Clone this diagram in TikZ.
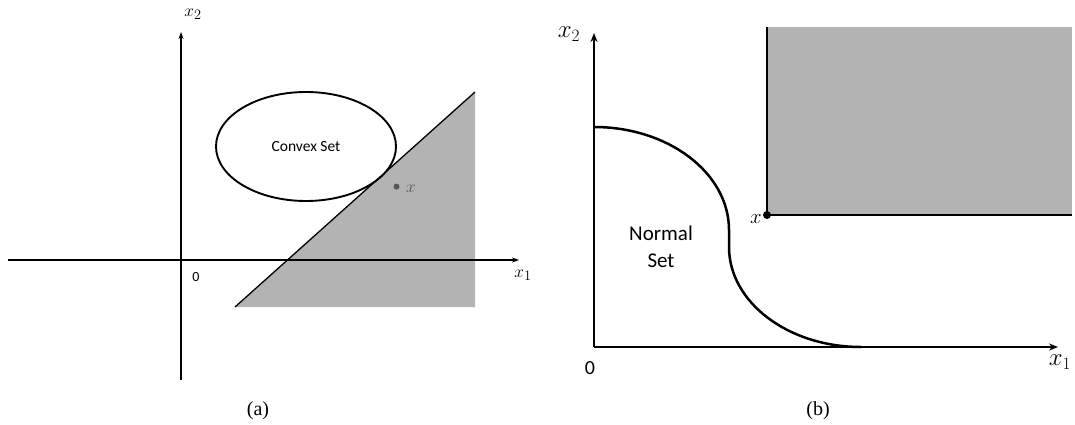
\documentclass[tikz,border=0pt]{standalone}
\usepackage{fontspec}
\setmainfont{Liberation Serif}
\setsansfont{Carlito}
\usetikzlibrary{arrows.meta,shapes.geometric}
\definecolor{shadegray}{RGB}{179,179,179}
\definecolor{dotgray}{RGB}{85,85,85}
\tikzset{
  axisa/.style={line width=1.4pt,-{Stealth[length=7pt,width=5pt]}},
  axisb/.style={line width=2.5pt,-{Stealth[length=9pt,width=7pt]}},
  lbla/.style={inner sep=0pt,font=\fontsize{19}{22}\selectfont},
  lblb/.style={inner sep=0pt,font=\fontsize{24}{28}\selectfont},
  captext/.style={inner sep=0pt,font=\fontsize{20}{24}\selectfont},
}
\begin{document}
\begin{tikzpicture}[x=1pt,y=-1pt]
\useasboundingbox (0,0) rectangle (1075,425);
% ---------- panel (a) ----------
\coordinate (ay0) at (181,380);
\coordinate (ay1) at (181,32);
\coordinate (ax0) at (8,260);
\coordinate (ax1) at (519,260);
\coordinate (t1) at (235,307);
\coordinate (t2) at (475,92);
\coordinate (t3) at (475,307);
\fill[shadegray] (t1) -- (t2) -- (t3) -- cycle;
\draw[axisa] (ay0) -- (ay1);
\draw[axisa] (ax0) -- (ax1);
\draw[line width=1.3pt] (t1) -- (t2);
\node[ellipse,draw,line width=1.9pt,minimum width=180pt,minimum height=109pt,inner sep=0pt,
      font=\sffamily\fontsize{15.5}{18}\selectfont] (cs) at (306,146.5) {Convex Set};
\node[lbla] (ax2lbl) at (193,14) {$x_2$};
\node[lbla] (ax1lbl) at (523,275) {$x_1$};
\node[inner sep=0pt,font=\sffamily\fontsize{14}{16}\selectfont] (a0) at (196,277) {0};
\node[circle,fill=dotgray,inner sep=0pt,minimum size=6pt] (adot) at (396.5,186.6) {};
\node[lbla,text=dotgray] (axlbl) at (411,189) {$x$};
\node[captext] (capa) at (258,411) {(a)};
% ---------- panel (b) ----------
\coordinate (bo) at (594,347);
\coordinate (by1) at (594,33);
\coordinate (bx1) at (1058,347);
\coordinate (r0) at (767,27);
\coordinate (r1) at (767,215);
\coordinate (r2) at (1072,215);
\fill[shadegray] (r0) rectangle (1072,215);
\draw[line width=2.5pt] (r0) -- (r1) -- (r2);
\draw[axisb] (bo) -- (by1);
\draw[axisb] (bo) -- (bx1);
\coordinate (c0) at (594,127);
\draw[line width=2.5pt] (c0) arc[start angle=90,end angle=0,x radius=135pt,y radius=103pt]
  -- (729,247) arc[start angle=180,end angle=270,x radius=132pt,y radius=100pt];
\node[circle,fill=black,inner sep=0pt,minimum size=8pt] (bdot) at (r1) {};
\node[inner sep=0pt,font=\fontsize{21}{24}\selectfont] (bxlbl) at (756,219) {$x$};
\node[lblb] (bx2lbl) at (569,34) {$x_2$};
\node[lblb] (bx1lbl) at (1060,362) {$x_1$};
\node[inner sep=0pt,font=\sffamily\fontsize{20}{24}\selectfont] (b0) at (590,368) {0};
\node[align=center,inner sep=0pt,font=\sffamily\fontsize{21}{27}\selectfont] (ns) at (661,247) {Normal\\Set};
\node[captext] (capb) at (818,411) {(b)};
\end{tikzpicture}
\end{document}
